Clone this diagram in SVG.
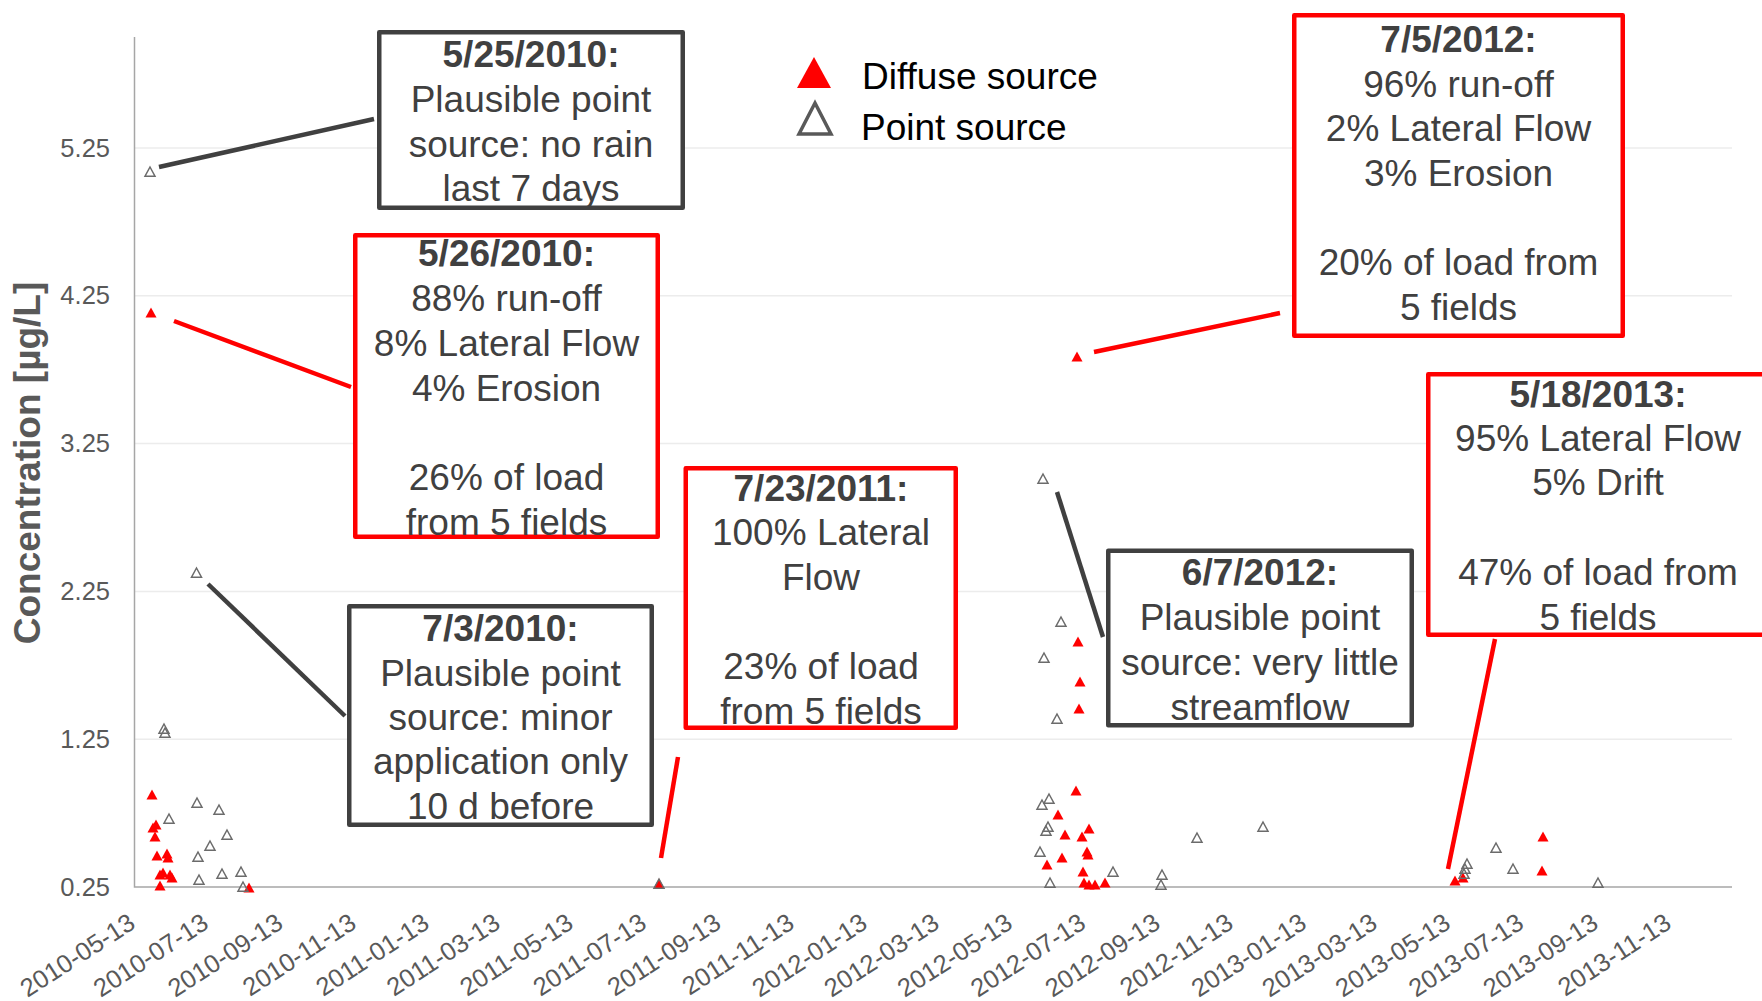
<svg xmlns="http://www.w3.org/2000/svg" width="1762" height="1001" viewBox="0 0 1762 1001">
<style>
.grid{stroke:#ececec;stroke-width:1.5}
.axis{stroke:#a6a6a6;stroke-width:1.5;fill:none}
.yt{font-family:"Liberation Sans",Arial,sans-serif;font-size:25.5px;fill:#595959;text-anchor:end}
.xt{font-family:"Liberation Sans",Arial,sans-serif;font-size:25.5px;fill:#595959;text-anchor:end}
.ttl{font-family:"Liberation Sans",Arial,sans-serif;font-size:37px;font-weight:bold;fill:#595959;text-anchor:middle}
.box{fill:#fff;stroke-width:4.5;stroke-linejoin:round}
.gb{stroke:#404040}
.rb{stroke:#ff0000}
.bt{font-family:"Liberation Sans",Arial,sans-serif;font-size:37px;fill:#404040;text-anchor:middle}
.bh{font-weight:bold}
.lg{font-family:"Liberation Sans",Arial,sans-serif;font-size:37px;fill:#000}
.cg{stroke:#404040;stroke-width:4.5;fill:none}
.cr{stroke:#ff0000;stroke-width:4.5;fill:none}
</style>
<defs>
<path id="tf" d="M0,-5.5 L5.5,4.5 L-5.5,4.5Z" fill="#ff0000"/>
<path id="th" d="M0,-5 L5,4.2 L-5,4.2Z" fill="none" stroke="#6b6b6b" stroke-width="1.5"/>
</defs>
<rect x="0" y="0" width="1762" height="1001" fill="#fff"/>

<g id="chart">
<g id="gridlines">
<line class="grid" x1="135" y1="148" x2="1732" y2="148"/>
<line class="grid" x1="135" y1="295.8" x2="1732" y2="295.8"/>
<line class="grid" x1="135" y1="443.6" x2="1732" y2="443.6"/>
<line class="grid" x1="135" y1="591.4" x2="1732" y2="591.4"/>
<line class="grid" x1="135" y1="739.2" x2="1732" y2="739.2"/>
</g>
<polyline class="axis" points="134.5,37 134.5,887 1732,887"/>
<g id="y-ticks">
<text class="yt" x="110" y="156.5">5.25</text>
<text class="yt" x="110" y="304.3">4.25</text>
<text class="yt" x="110" y="452">3.25</text>
<text class="yt" x="110" y="600">2.25</text>
<text class="yt" x="110" y="747.7">1.25</text>
<text class="yt" x="110" y="895.5">0.25</text>
</g>
<text class="ttl" transform="translate(40,463) rotate(-90)">Concentration [µg/L]</text>
<g id="x-ticks">
<text class="xt" transform="translate(137,927) rotate(-33)">2010-05-13</text>
<text class="xt" transform="translate(210.2,927) rotate(-33)">2010-07-13</text>
<text class="xt" transform="translate(284.6,927) rotate(-33)">2010-09-13</text>
<text class="xt" transform="translate(357.8,927) rotate(-33)">2010-11-13</text>
<text class="xt" transform="translate(431,927) rotate(-33)">2011-01-13</text>
<text class="xt" transform="translate(501.8,927) rotate(-33)">2011-03-13</text>
<text class="xt" transform="translate(575,927) rotate(-33)">2011-05-13</text>
<text class="xt" transform="translate(648.2,927) rotate(-33)">2011-07-13</text>
<text class="xt" transform="translate(722.6,927) rotate(-33)">2011-09-13</text>
<text class="xt" transform="translate(795.8,927) rotate(-33)">2011-11-13</text>
<text class="xt" transform="translate(869,927) rotate(-33)">2012-01-13</text>
<text class="xt" transform="translate(941,927) rotate(-33)">2012-03-13</text>
<text class="xt" transform="translate(1014.2,927) rotate(-33)">2012-05-13</text>
<text class="xt" transform="translate(1087.4,927) rotate(-33)">2012-07-13</text>
<text class="xt" transform="translate(1161.8,927) rotate(-33)">2012-09-13</text>
<text class="xt" transform="translate(1235,927) rotate(-33)">2012-11-13</text>
<text class="xt" transform="translate(1308.2,927) rotate(-33)">2013-01-13</text>
<text class="xt" transform="translate(1379,927) rotate(-33)">2013-03-13</text>
<text class="xt" transform="translate(1452.2,927) rotate(-33)">2013-05-13</text>
<text class="xt" transform="translate(1525.4,927) rotate(-33)">2013-07-13</text>
<text class="xt" transform="translate(1599.8,927) rotate(-33)">2013-09-13</text>
<text class="xt" transform="translate(1673,927) rotate(-33)">2013-11-13</text>
</g>
<g id="diffuse-points">
<use href="#tf" x="151" y="313"/>
<use href="#tf" x="152" y="795"/>
<use href="#tf" x="156" y="825"/>
<use href="#tf" x="153" y="828"/>
<use href="#tf" x="155" y="837"/>
<use href="#tf" x="157" y="856"/>
<use href="#tf" x="167" y="854"/>
<use href="#tf" x="168" y="858"/>
<use href="#tf" x="160" y="875"/>
<use href="#tf" x="163" y="873"/>
<use href="#tf" x="170" y="875"/>
<use href="#tf" x="172" y="878"/>
<use href="#tf" x="160" y="886"/>
<use href="#tf" x="249" y="888"/>
<use href="#tf" x="659" y="884"/>
<use href="#tf" x="1077" y="357"/>
<use href="#tf" x="1078" y="642"/>
<use href="#tf" x="1080" y="682"/>
<use href="#tf" x="1079" y="709"/>
<use href="#tf" x="1076" y="791"/>
<use href="#tf" x="1058" y="815"/>
<use href="#tf" x="1089" y="829"/>
<use href="#tf" x="1065" y="835"/>
<use href="#tf" x="1082" y="837"/>
<use href="#tf" x="1087" y="852"/>
<use href="#tf" x="1088" y="855"/>
<use href="#tf" x="1062" y="858"/>
<use href="#tf" x="1047" y="865"/>
<use href="#tf" x="1083" y="872"/>
<use href="#tf" x="1084" y="883"/>
<use href="#tf" x="1089" y="885"/>
<use href="#tf" x="1095" y="885"/>
<use href="#tf" x="1105" y="883"/>
<use href="#tf" x="1543" y="837"/>
<use href="#tf" x="1542" y="871"/>
<use href="#tf" x="1455" y="881"/>
<use href="#tf" x="1463" y="878"/>
</g>
<g id="point-points">
<use href="#th" x="150" y="172"/>
<use href="#th" x="196.5" y="573"/>
<use href="#th" x="164" y="729"/>
<use href="#th" x="165" y="733"/>
<use href="#th" x="197" y="803"/>
<use href="#th" x="219" y="810"/>
<use href="#th" x="169" y="819"/>
<use href="#th" x="227" y="835"/>
<use href="#th" x="210" y="846"/>
<use href="#th" x="198" y="857"/>
<use href="#th" x="199" y="880"/>
<use href="#th" x="222" y="874"/>
<use href="#th" x="241" y="872"/>
<use href="#th" x="243" y="887"/>
<use href="#th" x="659" y="884"/>
<use href="#th" x="1043" y="479"/>
<use href="#th" x="1061" y="622"/>
<use href="#th" x="1044" y="658"/>
<use href="#th" x="1057" y="719"/>
<use href="#th" x="1049" y="799"/>
<use href="#th" x="1042" y="805"/>
<use href="#th" x="1048" y="827"/>
<use href="#th" x="1046" y="831"/>
<use href="#th" x="1040" y="852"/>
<use href="#th" x="1113" y="872"/>
<use href="#th" x="1050" y="883"/>
<use href="#th" x="1162" y="875"/>
<use href="#th" x="1161" y="885"/>
<use href="#th" x="1197" y="838"/>
<use href="#th" x="1263" y="827"/>
<use href="#th" x="1496" y="848"/>
<use href="#th" x="1467" y="864"/>
<use href="#th" x="1465" y="869"/>
<use href="#th" x="1464" y="874"/>
<use href="#th" x="1513" y="869"/>
<use href="#th" x="1598" y="883"/>
</g>
</g>

<g id="legend">
<path d="M814,57 L831,88 L797,88Z" fill="#ff0000"/>
<text class="lg" x="862" y="89">Diffuse source</text>
<path d="M815,103 L831,134 L799,134Z" fill="none" stroke="#595959" stroke-width="3.5" stroke-linejoin="miter"/>
<text class="lg" x="861" y="140">Point source</text>
</g>

<g id="connectors">
<line class="cg" x1="159" y1="167" x2="374" y2="119"/>
<line class="cr" x1="174" y1="321" x2="351" y2="387"/>
<line class="cg" x1="208" y1="584" x2="345" y2="716"/>
<line class="cr" x1="661" y1="858" x2="678" y2="757"/>
<line class="cg" x1="1057" y1="492" x2="1103" y2="637"/>
<line class="cr" x1="1094" y1="352" x2="1280" y2="313"/>
<line class="cr" x1="1448" y1="869" x2="1495" y2="639"/>
</g>

<g id="box-2010-05-25">
<rect class="box gb" x="379.25" y="32.25" width="303.5" height="175.5"/>
<text class="bt bh" x="531" y="67">5/25/2010:</text>
<text class="bt" x="531" y="112">Plausible point</text>
<text class="bt" x="531" y="156.5">source: no rain</text>
<text class="bt" x="531" y="201">last 7 days</text>
</g>

<g id="box-2010-05-26">
<rect class="box rb" x="355.25" y="235.25" width="302.5" height="301.5"/>
<text class="bt bh" x="506.5" y="266">5/26/2010:</text>
<text class="bt" x="506.5" y="311">88% run-off</text>
<text class="bt" x="506.5" y="356">8% Lateral Flow</text>
<text class="bt" x="506.5" y="400.5">4% Erosion</text>
<text class="bt" x="506.5" y="490">26% of load</text>
<text class="bt" x="506.5" y="534.5">from 5 fields</text>
</g>

<g id="box-2010-07-03">
<rect class="box gb" x="349.25" y="606.25" width="302.5" height="218.5"/>
<text class="bt bh" x="500.5" y="641">7/3/2010:</text>
<text class="bt" x="500.5" y="685.5">Plausible point</text>
<text class="bt" x="500.5" y="730">source: minor</text>
<text class="bt" x="500.5" y="774">application only</text>
<text class="bt" x="500.5" y="819">10 d before</text>
</g>

<g id="box-2011-07-23">
<rect class="box rb" x="685.75" y="468.25" width="270" height="259.5"/>
<text class="bt bh" x="821" y="500.5">7/23/2011:</text>
<text class="bt" x="821" y="545">100% Lateral</text>
<text class="bt" x="821" y="589.5">Flow</text>
<text class="bt" x="821" y="679">23% of load</text>
<text class="bt" x="821" y="723.5">from 5 fields</text>
</g>

<g id="box-2012-06-07">
<rect class="box gb" x="1108.25" y="550.75" width="303.5" height="174.5"/>
<text class="bt bh" x="1260" y="585">6/7/2012:</text>
<text class="bt" x="1260" y="630">Plausible point</text>
<text class="bt" x="1260" y="675">source: very little</text>
<text class="bt" x="1260" y="720">streamflow</text>
</g>

<g id="box-2012-07-05">
<rect class="box rb" x="1294.25" y="15.25" width="328.5" height="320.5"/>
<text class="bt bh" x="1458.5" y="52">7/5/2012:</text>
<text class="bt" x="1458.5" y="96.5">96% run-off</text>
<text class="bt" x="1458.5" y="141">2% Lateral Flow</text>
<text class="bt" x="1458.5" y="186">3% Erosion</text>
<text class="bt" x="1458.5" y="275">20% of load from</text>
<text class="bt" x="1458.5" y="320">5 fields</text>
</g>

<g id="box-2013-05-18">
<rect class="box rb" x="1428.25" y="374.25" width="341.5" height="260.5"/>
<text class="bt bh" x="1598" y="406.5">5/18/2013:</text>
<text class="bt" x="1598" y="451">95% Lateral Flow</text>
<text class="bt" x="1598" y="495">5% Drift</text>
<text class="bt" x="1598" y="585">47% of load from</text>
<text class="bt" x="1598" y="629.5">5 fields</text>
</g>
</svg>
